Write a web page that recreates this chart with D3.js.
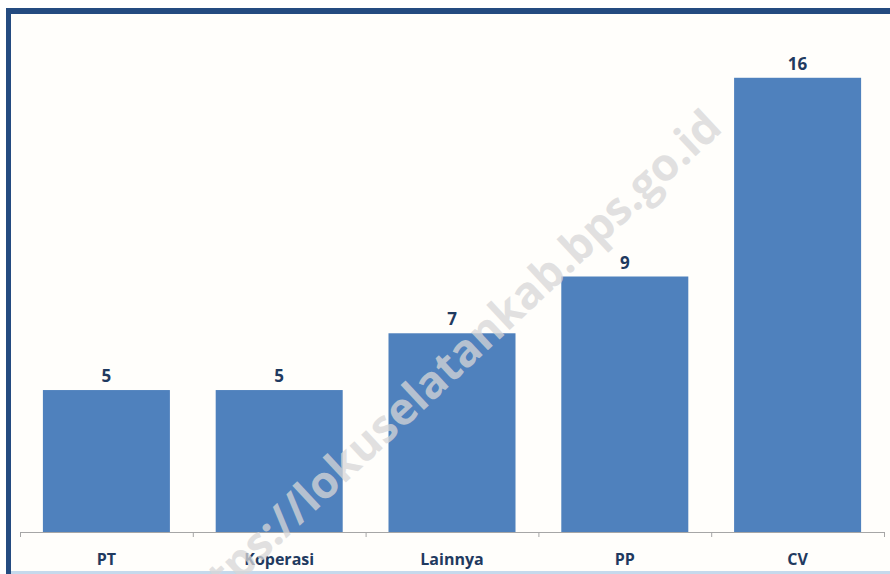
<!DOCTYPE html>
<html>
<head>
<meta charset="utf-8">
<script src="https://cdn.jsdelivr.net/npm/d3@7"></script>
<style>
  html, body { margin: 0; padding: 0; background: #fff; }
  svg { display: block; }
</style>
</head>
<body>
<svg id="chart" width="890" height="574"></svg>
<script>
// data
const categories = ["PT", "Koperasi", "Lainnya", "PP", "CV"];
const values = [5, 5, 7, 9, 16];
const yMax = 18;

var svg = d3.select("#chart");

// frame
svg.append("rect").attr("x", 0).attr("y", 0).attr("width", 890).attr("height", 574).attr("fill", "#ffffff");
svg.append("rect").attr("x", 11).attr("y", 14).attr("width", 879).attr("height", 557).attr("fill", "#fffefb");
svg.append("rect").attr("x", 6).attr("y", 8).attr("width", 884).attr("height", 6).attr("fill", "#244b80");
svg.append("rect").attr("x", 6).attr("y", 8).attr("width", 5).attr("height", 566).attr("fill", "#244b80");
svg.append("rect").attr("x", 11).attr("y", 571).attr("width", 879).attr("height", 3).attr("fill", "#c5d9ec");

// scales
var xScale = d3.scaleBand()
    .domain(categories)
    .range([20, 884])
    .paddingInner(0.265)
    .paddingOuter(0.1325);

var yScale = d3.scaleLinear()
    .domain([0, yMax])
    .range([532, 21]);

// bars
svg.append("g").selectAll("rect")
    .data(categories)
    .join("rect")
    .attr("x", d => xScale(d))
    .attr("y", (d, i) => yScale(values[i]))
    .attr("width", xScale.bandwidth())
    .attr("height", (d, i) => yScale(0) - yScale(values[i]))
    .attr("fill", "#4f81bd");

// value labels
svg.append("g").selectAll("text")
    .data(categories)
    .join("text")
    .attr("x", d => xScale(d) + xScale.bandwidth() / 2)
    .attr("y", (d, i) => yScale(values[i]) - 8)
    .attr("text-anchor", "middle")
    .attr("font-family", "Open Sans, sans-serif")
    .attr("font-weight", "bold")
    .attr("font-size", 17)
    .attr("fill", "#1f3a60")
    .text((d, i) => values[i]);

// x axis line + ticks between categories
var step = xScale.step();
var axis = svg.append("g");
axis.append("line")
    .attr("x1", 20).attr("x2", 884)
    .attr("y1", 532.5).attr("y2", 532.5)
    .attr("stroke", "#a6a6a6").attr("stroke-width", 1);
axis.selectAll("line.tick")
    .data(d3.range(categories.length + 1))
    .join("line")
    .attr("class", "tick")
    .attr("x1", i => 20.5 + i * step).attr("x2", i => 20.5 + i * step)
    .attr("y1", 532).attr("y2", 537)
    .attr("stroke", "#a6a6a6").attr("stroke-width", 1);

// category labels
axis.selectAll("text")
    .data(categories)
    .join("text")
    .attr("x", d => xScale(d) + xScale.bandwidth() / 2)
    .attr("y", 565)
    .attr("text-anchor", "middle")
    .attr("font-family", "Open Sans, sans-serif")
    .attr("font-weight", "bold")
    .attr("font-size", 16)
    .attr("fill", "#1f3a60")
    .text(d => d);

// watermark
svg.append("text")
    .attr("transform", "translate(724,130) rotate(-43)")
    .attr("text-anchor", "end")
    .attr("font-family", "Open Sans, sans-serif")
    .attr("font-weight", "bold")
    .attr("font-size", 45)
    .attr("fill", "#d7d7d7")
    .attr("fill-opacity", 0.75)
    .text("https://lokuselatankab.bps.go.id");
</script>
</body>
</html>
